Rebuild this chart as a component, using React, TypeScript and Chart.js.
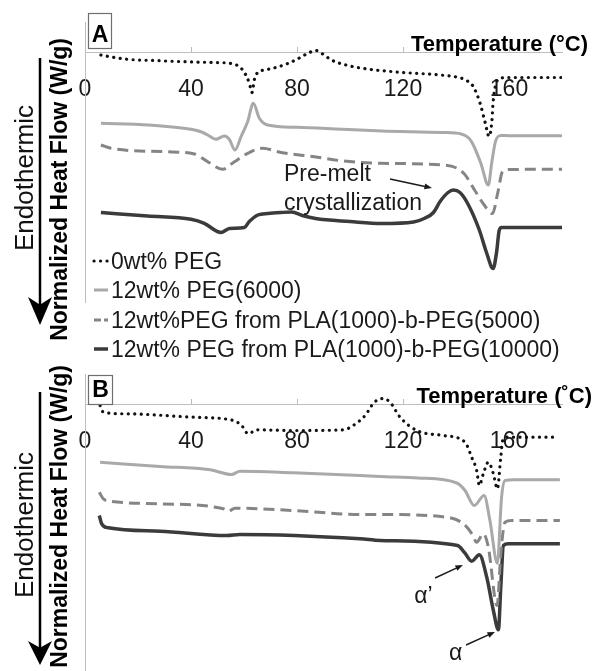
import React, { useEffect, useRef } from 'react';
import { Chart, registerables } from 'chart.js';

Chart.register(...registerables);

const FONT = '"Liberation Sans", Arial, Helvetica, sans-serif';

// ---------- labels ----------
const seriesLabels = [
  '0wt% PEG',
  '12wt% PEG(6000)',
  '12wt%PEG from PLA(1000)-b-PEG(5000)',
  '12wt% PEG from PLA(1000)-b-PEG(10000)',
];
const xTickValues = [0, 40, 80, 120, 160];
const xTickLabels = ['0', '40', '80', '120', '160'];
const panelALetter = 'A';
const panelBLetter = 'B';
const panelATempTitle = 'Temperature (°C)';
const panelBTempTitle = 'Temperature (˚C)';
const yTitle = 'Normalized Heat Flow (W/g)';
const endoLabel = 'Endothermic';

// ---------- panel A data (temperature °C, normalized heat flow, arbitrary offset units) ----------
const aTemp0 = [6, 10, 16, 26, 41, 49, 56, 59.5, 62, 63, 64, 65.2, 68, 72.7, 77, 80.5, 84, 87, 90, 93, 100, 108, 120, 134, 141, 144, 146.5, 149, 151, 152.5, 153.5, 154, 155, 157, 160, 180];
const aFlow0 = [-0.25, -0.45, -0.68, -0.8, -0.95, -1.0, -1.15, -1.75, -3.05, -4.0, -2.6, -2.0, -1.75, -1.45, -1.05, -0.6, -0.1, 0.2, -0.2, -0.75, -1.35, -1.7, -2.0, -2.25, -2.5, -2.8, -3.4, -5.0, -7.0, -8.4, -7.0, -5.0, -3.2, -2.55, -2.5, -2.5];

const aTemp6000 = [6, 24, 40, 44, 46.3, 49.4, 52.6, 54.5, 56.6, 58.9, 61.4, 63.5, 65.8, 68.9, 80, 97, 112, 135, 142, 145, 146.8, 149.4, 152.2, 153.5, 155, 157, 160, 180];
const aFlow6000 = [-7.08, -7.25, -7.68, -7.95, -8.25, -8.68, -8.35, -8.7, -9.75, -8.4, -6.9, -5.08, -6.58, -7.25, -7.48, -7.68, -7.85, -8.0, -8.15, -8.6, -9.4, -11.1, -13.25, -11.0, -8.8, -8.3, -8.32, -8.32];

const aTemp5000 = [6, 9.8, 30, 41.3, 46.3, 52, 56.4, 61.4, 67, 74, 86.5, 96.6, 111.7, 136.8, 143, 147, 150.5, 153.8, 155.7, 157.6, 160, 180];
const aFlow5000 = [-9.25, -9.58, -9.92, -10.15, -10.92, -11.68, -10.92, -10.08, -9.58, -10.0, -10.42, -10.82, -11.08, -11.3, -12.1, -13.75, -15.2, -16.1, -14.1, -11.9, -11.7, -11.68];

const aTemp10000 = [6, 23.6, 40, 45, 51.3, 54.5, 60.1, 62, 65.2, 69, 74, 78, 82, 87, 100, 112, 124, 128, 131.5, 134, 137, 139, 141.5, 144.4, 148.8, 151.5, 154, 155.3, 156.3, 157.2, 160, 180];
const aFlow10000 = [-16.0, -16.35, -16.68, -17.08, -18.0, -17.6, -17.5, -16.9, -16.25, -16.1, -16.0, -15.95, -16.3, -16.6, -16.9, -17.1, -16.95, -16.6, -16.0, -14.9, -14.0, -13.75, -14.0, -15.1, -17.75, -20.0, -21.6, -20.0, -17.8, -17.5, -17.5, -17.5];

// ---------- panel B data ----------
const bTemp0 = [5.7, 6.9, 15.7, 40.9, 56, 59.1, 61.6, 64.8, 78.6, 97.5, 101.2, 105.7, 109.2, 112.5, 115.1, 118.9, 125.2, 135.2, 143.4, 145.9, 147.8, 148.8, 150.3, 152.2, 154.1, 155.6, 156.9, 157.6, 159.1, 178];
const bFlow0 = [-0.1, -0.77, -0.93, -1.27, -1.6, -2.1, -2.93, -2.53, -2.6, -2.53, -2.1, -1.1, 0.23, 0.6, 0.23, -1.27, -2.6, -3.1, -3.77, -5.27, -6.6, -8.1, -6.93, -5.77, -6.93, -8.43, -5.27, -3.6, -3.27, -3.27];

const bTemp6000 = [5.7, 28.3, 47.2, 55.3, 58.5, 78.6, 103.8, 111.3, 125.7, 140.3, 143.4, 146.9, 150.6, 152.8, 155.6, 157.2, 158.5, 161.6, 179.2];
const bFlow6000 = [-5.77, -6.2, -6.53, -7.0, -6.67, -6.83, -7.1, -7.2, -7.35, -7.85, -8.6, -10.1, -9.1, -11.6, -15.87, -9.27, -7.6, -7.53, -7.53];

const bTemp5000 = [5.4, 6.9, 9.4, 28.3, 52.2, 54.1, 56.6, 78.6, 103.8, 111.3, 136.5, 142.8, 146, 147.8, 150.3, 152.2, 155.5, 157, 158.5, 161, 179.2];
const bFlow5000 = [-8.77, -9.43, -9.67, -9.93, -10.43, -10.67, -10.37, -10.6, -11.0, -11.0, -11.27, -11.93, -12.93, -13.77, -12.93, -14.27, -20.1, -14.6, -11.77, -11.6, -11.6];

const bTemp10000 = [5.4, 6.3, 8.8, 28.3, 53.5, 58.5, 103.8, 111.3, 140.6, 143.4, 145.9, 148.8, 151.6, 154.1, 156, 156.9, 157.9, 159.7, 179.2];
const bFlow10000 = [-11.1, -11.93, -12.33, -12.67, -13.1, -13.0, -13.43, -13.6, -14.1, -14.87, -15.67, -15.03, -17.27, -20.6, -22.53, -18.27, -14.1, -13.93, -13.93];

// ---------- styles ----------
const seriesColors = ['#111111', '#a9a9a9', '#858585', '#3b3b3b'];
const seriesWidths = [3.2, 3, 3, 3.5];
const seriesDashes = [[0.1, 6.4], [], [11, 6], []];
const seriesCaps = ['round', 'butt', 'butt', 'butt'];
const legendDashes = [[0.1, 6.4], [], [7, 3], []];

function makeDatasets(temps: number[][], flows: number[][]) {
  return temps.map((t, i) => ({
    label: seriesLabels[i],
    data: t.map((x, j) => ({ x, y: flows[i][j] })),
    borderColor: seriesColors[i],
    borderWidth: seriesWidths[i],
    borderDash: seriesDashes[i],
    borderCapStyle: seriesCaps[i],
    borderJoinStyle: 'round',
    pointRadius: 0,
    pointHoverRadius: 0,
    fill: false,
    cubicInterpolationMode: 'monotone',
  }));
}

function arrowLine(ctx: CanvasRenderingContext2D, x1: number, y1: number, x2: number, y2: number, head: number) {
  const ang = Math.atan2(y2 - y1, x2 - x1);
  ctx.beginPath();
  ctx.moveTo(x1, y1);
  ctx.lineTo(x2 - Math.cos(ang) * head * 0.6, y2 - Math.sin(ang) * head * 0.6);
  ctx.stroke();
  ctx.beginPath();
  ctx.moveTo(x2, y2);
  ctx.lineTo(x2 - head * Math.cos(ang - 0.38), y2 - head * Math.sin(ang - 0.38));
  ctx.lineTo(x2 - head * Math.cos(ang + 0.38), y2 - head * Math.sin(ang + 0.38));
  ctx.closePath();
  ctx.fill();
}

const decorPlugin = {
  id: 'decor',
  afterDraw(chart: any, _args: any, o: any) {
    const ctx: CanvasRenderingContext2D = chart.ctx;
    const xs = chart.scales.x;
    const ys = chart.scales.y;
    const X = (v: number) => xs.getPixelForValue(v);
    const Y = (v: number) => ys.getPixelForValue(v);
    ctx.save();

    // panel letter box
    const [bx, by, bw, bh] = o.box;
    ctx.fillStyle = '#ffffff';
    ctx.fillRect(bx, by, bw, bh);
    ctx.strokeStyle = '#6f6f6f';
    ctx.lineWidth = 1.2;
    ctx.strokeRect(bx + 0.5, by + 0.5, bw, bh);
    ctx.fillStyle = '#000';
    ctx.font = `bold 23px ${FONT}`;
    ctx.textAlign = 'center';
    ctx.textBaseline = 'alphabetic';
    ctx.fillText(o.letter, bx + bw / 2 + 0.5, o.letterBaseline);

    // x-axis title
    ctx.font = `bold 22px ${FONT}`;
    ctx.textAlign = 'right';
    ctx.fillStyle = '#000';
    ctx.fillText(o.temp, o.tempRight, o.tempBaseline);

    // y-axis title (rotated)
    ctx.save();
    ctx.translate(o.yTitleX, o.yTitleTop);
    ctx.rotate(-Math.PI / 2);
    ctx.font = `bold 23px ${FONT}`;
    ctx.textAlign = 'right';
    ctx.fillText(o.yTitle, 0, 0);
    ctx.restore();

    // Endothermic label
    ctx.save();
    ctx.translate(o.endoX, o.endoCenter);
    ctx.rotate(-Math.PI / 2);
    ctx.font = `26px ${FONT}`;
    ctx.textAlign = 'center';
    ctx.fillStyle = '#111';
    ctx.fillText(o.endo, 0, 0);
    ctx.restore();

    // big arrow
    const ax = o.arrowX;
    ctx.strokeStyle = '#000';
    ctx.fillStyle = '#000';
    ctx.lineWidth = 2.5;
    ctx.beginPath();
    ctx.moveTo(ax, o.arrowTop);
    ctx.lineTo(ax, o.arrowTip - o.headLen * 0.6);
    ctx.stroke();
    ctx.beginPath();
    ctx.moveTo(ax, o.arrowTip);
    ctx.lineTo(ax - o.headHalf, o.arrowTip - o.headLen);
    ctx.lineTo(ax, o.arrowTip - o.headLen * 0.72);
    ctx.lineTo(ax + o.headHalf, o.arrowTip - o.headLen);
    ctx.closePath();
    ctx.fill();

    // annotations
    ctx.font = `23px ${FONT}`;
    ctx.textAlign = 'left';
    ctx.fillStyle = '#1a1a1a';
    for (const n of o.notes) {
      ctx.fillText(n.text, X(n.x), Y(n.y) + 8.2);
    }
    ctx.strokeStyle = '#1a1a1a';
    ctx.fillStyle = '#1a1a1a';
    ctx.lineWidth = 1.4;
    for (const p of o.pointers) {
      arrowLine(ctx, X(p.x1), Y(p.y1), X(p.x2), Y(p.y2), 8);
    }

    // legend
    if (o.legend) {
      const L = o.legend;
      chart.data.datasets.forEach((ds: any, i: number) => {
        const yy = L.rows[i];
        ctx.save();
        ctx.strokeStyle = ds.borderColor;
        ctx.lineWidth = ds.borderWidth;
        ctx.setLineDash(legendDashes[i]);
        ctx.lineCap = ds.borderCapStyle;
        ctx.beginPath();
        ctx.moveTo(L.x0, yy);
        ctx.lineTo(L.x1, yy);
        ctx.stroke();
        ctx.restore();
        ctx.fillStyle = '#1a1a1a';
        ctx.font = `23px ${FONT}`;
        ctx.textAlign = 'left';
        ctx.textBaseline = 'alphabetic';
        ctx.fillText(ds.label, L.textX, yy + 8.2);
      });
    }
    ctx.restore();
  },
};

function makeConfig(datasets: any[], yMin: number, yMax: number, padding: any, decor: any) {
  return {
    type: 'line',
    data: { datasets },
    options: {
      responsive: false,
      animation: false,
      devicePixelRatio: 1,
      events: [],
      layout: { padding },
      plugins: {
        legend: { display: false },
        tooltip: { enabled: false },
        title: { display: false },
        decor,
      },
      scales: {
        x: {
          type: 'linear',
          min: 0,
          max: 180,
          position: { y: 0 },
          grid: { display: true, drawOnChartArea: false, drawTicks: true, tickLength: -6, color: '#bdbdbd', lineWidth: 1 },
          border: { display: true, color: '#bdbdbd', width: 1 },
          ticks: {
            stepSize: 40,
            includeBounds: false,
            autoSkip: false,
            maxRotation: 0,
            color: '#1a1a1a',
            padding: 29,
            font: { family: FONT, size: 23 },
            callback: (v: number) => {
              const k = xTickValues.indexOf(v);
              return k >= 0 ? xTickLabels[k] : '';
            },
          },
        },
        y: {
          type: 'linear',
          min: yMin,
          max: yMax,
          position: 'left',
          grid: { display: false },
          border: { display: true, color: '#bdbdbd', width: 1 },
          ticks: { display: false },
          afterFit: (s: any) => { s.width = 0; },
        },
      },
    },
    plugins: [decorPlugin],
  };
}

export default function App() {
  const refA = useRef<HTMLCanvasElement>(null);
  const refB = useRef<HTMLCanvasElement>(null);

  useEffect(() => {
    const dsA = makeDatasets([aTemp0, aTemp6000, aTemp5000, aTemp10000], [aFlow0, aFlow6000, aFlow5000, aFlow10000]);
    const dsB = makeDatasets([bTemp0, bTemp6000, bTemp5000, bTemp10000], [bFlow0, bFlow6000, bFlow5000, bFlow10000]);

    const cfgA = makeConfig(dsA, -25, 3, { left: 85, right: 33, top: 22.5, bottom: 69.5 }, {
      letter: panelALetter, box: [88, 13, 23, 35], letterBaseline: 41.5,
      temp: panelATempTitle, tempRight: 588, tempBaseline: 51,
      yTitle, yTitleX: 67, yTitleTop: 38,
      endo: endoLabel, endoX: 33, endoCenter: 178,
      arrowX: 40, arrowTop: 58, arrowTip: 325, headLen: 28, headHalf: 12,
      notes: [
        { text: 'Pre-melt', x: 75.1, y: -12.05 },
        { text: 'crystallization', x: 75.1, y: -14.95 },
      ],
      pointers: [{ x1: 115.1, y1: -12.65, x2: 130.9, y2: -13.55 }],
      legend: { x0: 94, x1: 108, textX: 111, rows: [261, 290, 320, 349] },
    });

    const cfgB = makeConfig(dsB, -26.65, 3, { left: 85, right: 33, top: 14.5, bottom: 0 }, {
      letter: panelBLetter, box: [88, 15, 24, 29], letterBaseline: 37,
      temp: panelBTempTitle, tempRight: 592, tempBaseline: 43,
      yTitle, yTitleX: 67, yTitleTop: 5,
      endo: endoLabel, endoX: 33, endoCenter: 165,
      arrowX: 40, arrowTop: 32, arrowTip: 305, headLen: 24, headHalf: 12,
      notes: [
        { text: 'α’', x: 124.2, y: -19.05 },
        { text: 'α', x: 137.4, y: -24.75 },
      ],
      pointers: [
        { x1: 132.1, y1: -17.35, x2: 142.6, y2: -16.05 },
        { x1: 143.8, y1: -24.05, x2: 154.7, y2: -22.75 },
      ],
      legend: null,
    });

    const a = new Chart(refA.current as HTMLCanvasElement, cfgA as any);
    const b = new Chart(refB.current as HTMLCanvasElement, cfgB as any);
    return () => {
      a.destroy();
      b.destroy();
    };
  }, []);

  return (
    <div style={{ position: 'fixed', left: 0, top: 0, width: 595, height: 671, overflow: 'hidden', background: '#ffffff' }}>
      <canvas ref={refA} width={595} height={372} style={{ position: 'absolute', left: 0, top: 0, width: 595, height: 372 }} />
      <canvas ref={refB} width={595} height={311} style={{ position: 'absolute', left: 0, top: 360, width: 595, height: 311 }} />
    </div>
  );
}
